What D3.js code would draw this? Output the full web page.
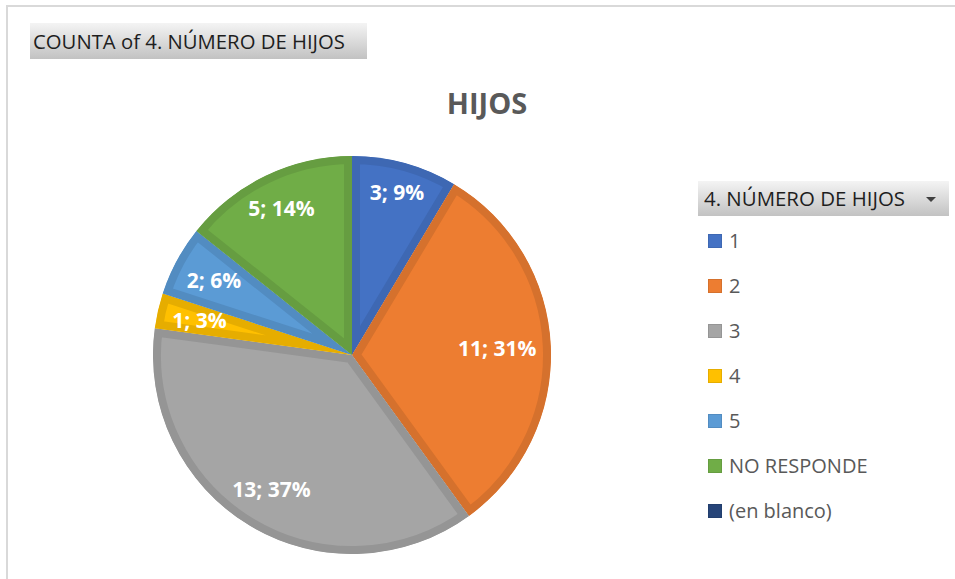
<!DOCTYPE html>
<html><head><meta charset="utf-8">
<script src="https://cdn.jsdelivr.net/npm/d3@7"></script>
<style>html,body{margin:0;padding:0;background:#fff;}svg{display:block;}</style>
</head><body>
<svg id="chart" width="955" height="579"></svg>
<script>
const categories = ["1", "2", "3", "4", "5", "NO RESPONDE", "(en blanco)"];
const values = [3, 11, 13, 1, 2, 5, 0];
const fillColors = ["#4472C4", "#ED7D31", "#A5A5A5", "#FFC000", "#5B9BD5", "#70AD47", "#264478"];
const bandColors = ["#3E68B3", "#D5712D", "#959595", "#E6AD00", "#528CC1", "#669D41", "#223E6D"];
const chartTitle = "HIJOS";
const pivotButton = "COUNTA of 4. NÚMERO DE HIJOS";
const legendTitle = "4. NÚMERO DE HIJOS";

const svg = d3.select("#chart");
const W = 955, H = 579;
const defs = svg.append("defs");
const grad = defs.append("linearGradient").attr("id", "btn").attr("x1", 0).attr("y1", 0).attr("x2", 0).attr("y2", 1);
grad.append("stop").attr("offset", "0%").attr("stop-color", "#f4f4f4");
grad.append("stop").attr("offset", "100%").attr("stop-color", "#c2c2c2");

// frame lines
svg.append("rect").attr("x", 8).attr("y", 5).attr("width", W - 8).attr("height", 2).attr("fill", "#d9d9d9");
svg.append("rect").attr("x", 6).attr("y", 5).attr("width", 2).attr("height", H - 5).attr("fill", "#d9d9d9");

// pivot field button
svg.append("rect").attr("x", 30).attr("y", 23).attr("width", 337).attr("height", 36).attr("fill", "url(#btn)");
svg.append("text").attr("x", 33).attr("y", 49).attr("font-family", "Open Sans").attr("font-size", 20)
  .attr("fill", "#1e1e1e").attr("textLength", 312).attr("lengthAdjust", "spacingAndGlyphs").text(pivotButton);

// title
svg.append("text").attr("x", 487).attr("y", 114).attr("text-anchor", "middle").attr("font-family", "Open Sans")
  .attr("font-weight", "bold").attr("font-size", 29).attr("fill", "#595959").text(chartTitle);

// pie
const cx = 352, cy = 355, R = 199, band = 8;
const total = d3.sum(values);
const data = categories.map((c, i) => ({cat: c, value: values[i], i}));
const pie = d3.pie().sort(null).value(d => d.value).startAngle(0).endAngle(2 * Math.PI);
const arcs = pie(data).filter(d => d.data.value > 0);
const arc = d3.arc().innerRadius(0).outerRadius(R);
const g = svg.append("g").attr("transform", `translate(${cx},${cy})`);

arcs.forEach(d => {
  defs.append("clipPath").attr("id", "clip" + d.data.i).append("path").attr("d", arc(d));
});
g.selectAll("path.slice").data(arcs).join("path").attr("class", "slice")
  .attr("d", arc)
  .attr("fill", d => fillColors[d.data.i])
  .attr("stroke", d => bandColors[d.data.i])
  .attr("stroke-width", band * 2)
  .attr("stroke-linejoin", "miter")
  .attr("clip-path", d => `url(#clip${d.data.i})`);

// labels (inside end)
const pad = 14;
const lbl = svg.append("g");
arcs.forEach(d => {
  const pct = Math.round(d.data.value / total * 100);
  const t = lbl.append("text").attr("font-family", "Open Sans").attr("font-weight", "bold")
    .attr("font-size", 21).attr("fill", "#ffffff").attr("text-anchor", "middle")
    .text(`${d.data.value}; ${pct}%`);
  const w = t.node().getComputedTextLength();
  const h = 18;
  const a = (d.startAngle + d.endAngle) / 2;
  const off = Math.abs(Math.sin(a)) * w / 2 + Math.abs(Math.cos(a)) * h / 2;
  const r = R - pad - off;
  const x = cx + r * Math.sin(a), y = cy - r * Math.cos(a);
  t.attr("x", x).attr("y", y + 7.5);
});

// legend header
svg.append("rect").attr("x", 698).attr("y", 181).attr("width", 251).attr("height", 35).attr("fill", "url(#btn)");
svg.append("text").attr("x", 704).attr("y", 206).attr("font-family", "Open Sans").attr("font-size", 20)
  .attr("fill", "#1e1e1e").attr("textLength", 201).attr("lengthAdjust", "spacingAndGlyphs").text(legendTitle);
svg.append("path").attr("d", "M926,197 L936,197 L931,202 Z").attr("fill", "#404040");

// legend items
const ly = d3.scalePoint().domain(categories).range([241, 511]);
const li = svg.append("g").selectAll("g").data(data).join("g")
  .attr("transform", d => `translate(708,${ly(d.cat)})`);
li.append("rect").attr("x", 0.5).attr("y", -6.5).attr("width", 13).attr("height", 13)
  .attr("fill", d => fillColors[d.i]).attr("stroke", d => bandColors[d.i]).attr("stroke-width", 1);
li.append("text").attr("x", 21).attr("y", 7).attr("font-family", "Open Sans").attr("font-size", 20)
  .attr("fill", "#595959").text(d => d.cat);
</script>
</body></html>
